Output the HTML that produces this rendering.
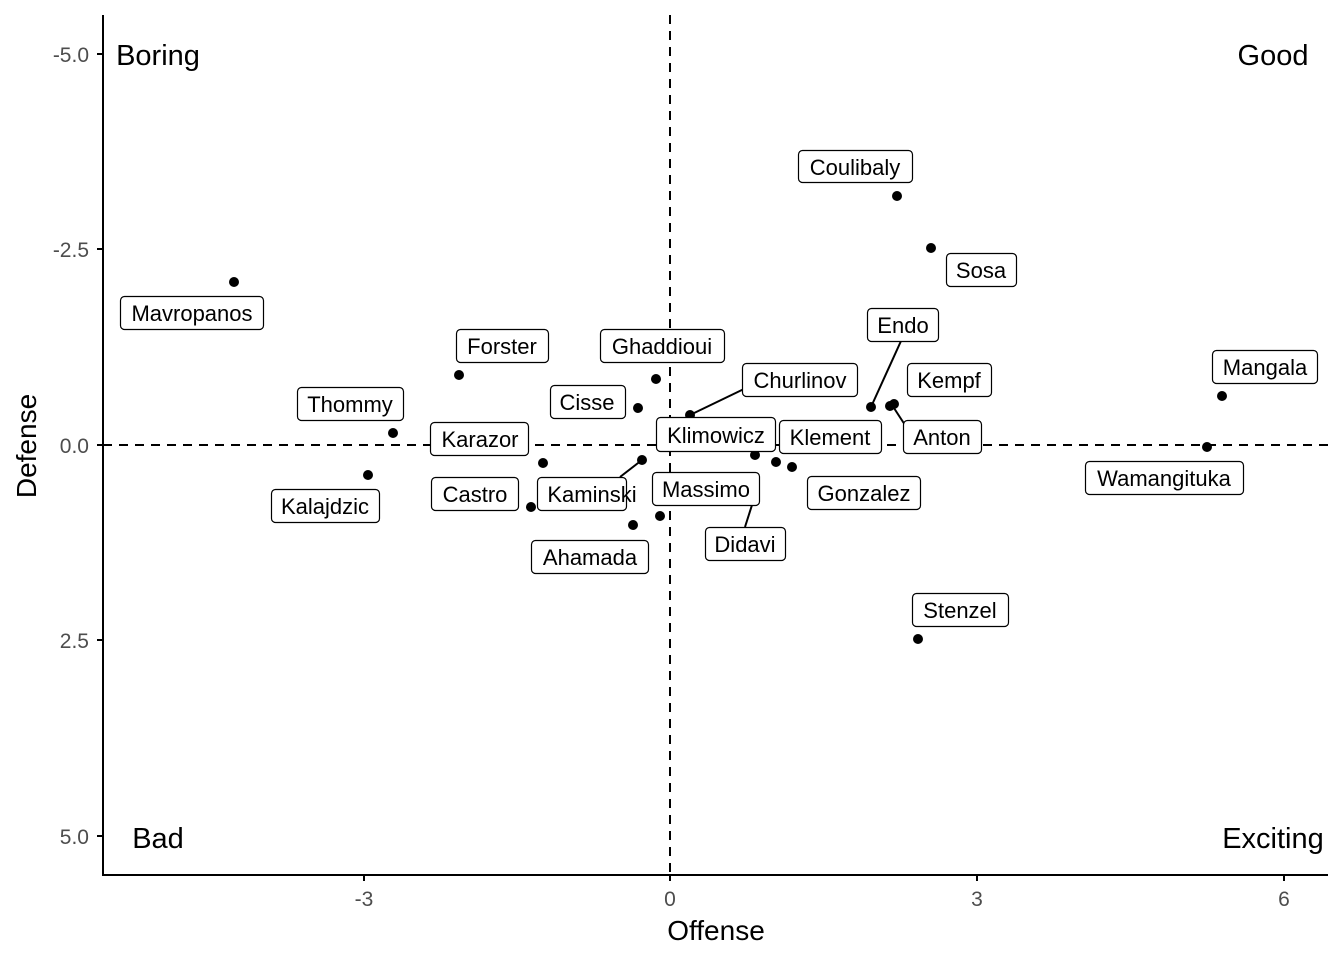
<!DOCTYPE html>
<html><head><meta charset="utf-8"><style>
body{margin:0;background:#fff}
svg text{font-family:"Liberation Sans",Arial,sans-serif}
</style></head><body>
<svg width="1344" height="960" xmlns="http://www.w3.org/2000/svg">
<rect width="1344" height="960" fill="#fff"/>
<g stroke="#000" stroke-width="2" stroke-dasharray="9,7">
<line x1="670" y1="15" x2="670" y2="875"/>
<line x1="103" y1="445" x2="1328" y2="445"/>
</g>
<g stroke="#000" stroke-width="2">
<line x1="103" y1="15" x2="103" y2="876"/>
<line x1="102" y1="875" x2="1328" y2="875"/>
<line x1="97" y1="54" x2="103" y2="54"/><line x1="97" y1="249" x2="103" y2="249"/>
<line x1="97" y1="445" x2="103" y2="445"/><line x1="97" y1="640" x2="103" y2="640"/>
<line x1="97" y1="836" x2="103" y2="836"/>
<line x1="364" y1="875" x2="364" y2="881"/><line x1="670" y1="875" x2="670" y2="881"/>
<line x1="977" y1="875" x2="977" y2="881"/><line x1="1284" y1="875" x2="1284" y2="881"/>
</g>
<g fill="#4d4d4d" font-size="21" text-anchor="end">
<text x="89" y="62">-5.0</text><text x="89" y="257">-2.5</text><text x="89" y="453">0.0</text>
<text x="89" y="648">2.5</text><text x="89" y="844">5.0</text>
</g>
<g fill="#4d4d4d" font-size="21" text-anchor="middle">
<text x="364" y="906">-3</text><text x="670" y="906">0</text><text x="977" y="906">3</text><text x="1284" y="906">6</text>
</g>
<text x="716" y="940" font-size="28" text-anchor="middle">Offense</text>
<text transform="translate(36,446) rotate(-90)" font-size="28" text-anchor="middle">Defense</text>
<g font-size="29" text-anchor="middle">
<text x="158" y="65">Boring</text><text x="1273" y="65">Good</text>
<text x="158" y="848">Bad</text><text x="1273" y="848">Exciting</text>
</g>
<g stroke="#000" stroke-width="2">
<line x1="871" y1="407" x2="901" y2="341"/>
<line x1="690" y1="415" x2="746" y2="388"/>
<line x1="892" y1="405" x2="905" y2="425"/>
<line x1="642" y1="460" x2="620" y2="477"/>
<line x1="752" y1="505" x2="745" y2="527"/>
</g>
<g fill="#000">
<circle cx="234" cy="282" r="5"/><circle cx="459" cy="375" r="5"/><circle cx="656" cy="379" r="5"/>
<circle cx="638" cy="408" r="5"/><circle cx="393" cy="433" r="5"/><circle cx="543" cy="463" r="5"/>
<circle cx="368" cy="475" r="5"/><circle cx="531" cy="507" r="5"/><circle cx="642" cy="460" r="5"/>
<circle cx="633" cy="525" r="5"/><circle cx="660" cy="516" r="5"/><circle cx="690" cy="415" r="5"/>
<circle cx="755" cy="455" r="5"/><circle cx="776" cy="462" r="5"/><circle cx="792" cy="467" r="5"/>
<circle cx="871" cy="407" r="5"/><circle cx="894" cy="404" r="5"/><circle cx="890" cy="406" r="5"/>
<circle cx="1207" cy="447" r="5"/><circle cx="1222" cy="396" r="5"/><circle cx="918" cy="639" r="5"/>
<circle cx="897" cy="196" r="5"/><circle cx="931" cy="248" r="5"/>
</g>
<g font-size="22" text-anchor="middle">
<g fill="#fff" stroke="#000" stroke-width="1.2">
<rect x="798.5" y="150.5" width="114" height="32" rx="4"/>
<rect x="946.5" y="253.5" width="70" height="33" rx="4"/>
<rect x="867.5" y="308.5" width="71" height="33" rx="4"/>
<rect x="907.5" y="363.5" width="84" height="33" rx="4"/>
<rect x="1212.5" y="350.5" width="105" height="33" rx="4"/>
<rect x="742.5" y="363.5" width="115" height="33" rx="4"/>
<rect x="903.5" y="420.5" width="78" height="33" rx="4"/>
<rect x="779.5" y="420.5" width="102" height="33" rx="4"/>
<rect x="656.5" y="417.5" width="119" height="34" rx="4"/>
<rect x="1085.5" y="461.5" width="158" height="33" rx="4"/>
<rect x="807.5" y="476.5" width="113" height="33" rx="4"/>
<rect x="652.5" y="472.5" width="107" height="33" rx="4"/>
<rect x="705.5" y="527.5" width="80" height="33" rx="4"/>
<rect x="912.5" y="593.5" width="96" height="33" rx="4"/>
<rect x="120.5" y="296.5" width="143" height="33" rx="4"/>
<rect x="456.5" y="329.5" width="92" height="33" rx="4"/>
<rect x="600.5" y="329.5" width="124" height="33" rx="4"/>
<rect x="297.5" y="387.5" width="106" height="33" rx="4"/>
<rect x="550.5" y="385.5" width="75" height="33" rx="4"/>
<rect x="430.5" y="422.5" width="98" height="33" rx="4"/>
<rect x="271.5" y="489.5" width="108" height="33" rx="4"/>
<rect x="431.5" y="477.5" width="87" height="33" rx="4"/>
<rect x="537.5" y="477.5" width="89" height="33" rx="4"/>
<rect x="531.5" y="540.5" width="117" height="33" rx="4"/>
</g>
<text x="855" y="175">Coulibaly</text><text x="981" y="278">Sosa</text><text x="903" y="333">Endo</text>
<text x="949" y="388">Kempf</text><text x="1265" y="375">Mangala</text><text x="800" y="388">Churlinov</text>
<text x="942" y="445">Anton</text><text x="830" y="445">Klement</text><text x="716" y="443">Klimowicz</text>
<text x="1164" y="486">Wamangituka</text><text x="864" y="501">Gonzalez</text><text x="706" y="497">Massimo</text>
<text x="745" y="552">Didavi</text><text x="960" y="618">Stenzel</text><text x="192" y="321">Mavropanos</text>
<text x="502" y="354">Forster</text><text x="662" y="354">Ghaddioui</text><text x="350" y="412">Thommy</text>
<text x="587" y="410">Cisse</text><text x="480" y="447">Karazor</text><text x="325" y="514">Kalajdzic</text>
<text x="475" y="502">Castro</text><text x="592" y="502">Kaminski</text><text x="590" y="565">Ahamada</text>
</g>
</svg>
</body></html>
